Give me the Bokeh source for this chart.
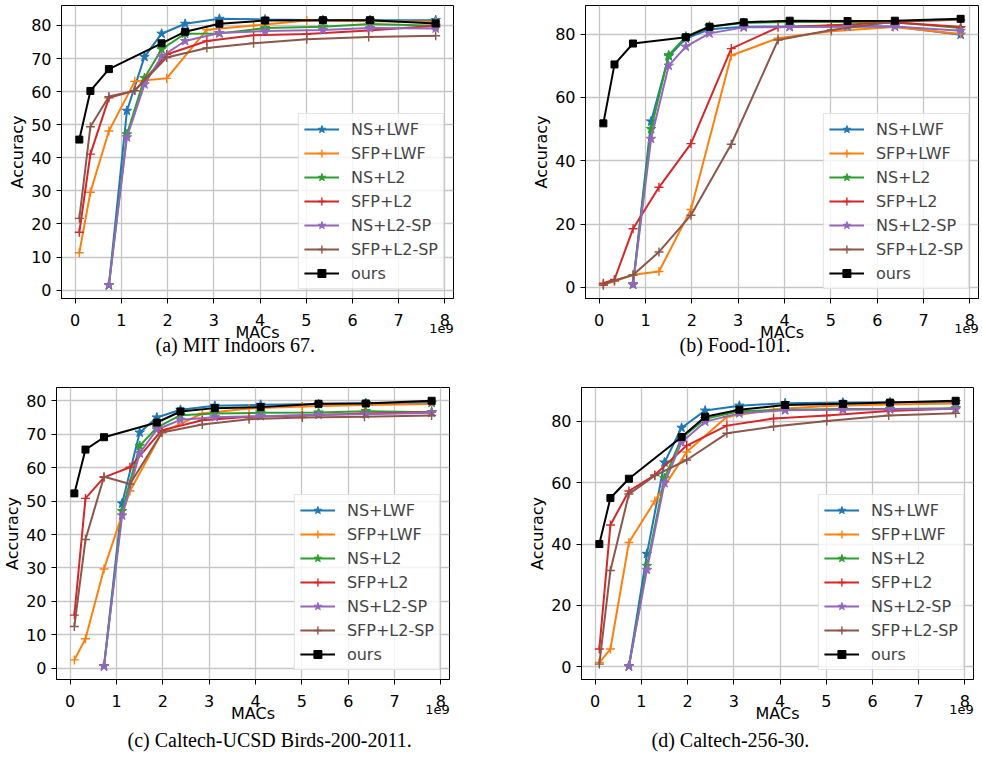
from bokeh.plotting import figure
from bokeh.layouts import row, column
from bokeh.models import Range1d, FixedTicker, LinearAxis, Title
from bokeh.embed import file_html
from bokeh.resources import INLINE

# ---------------- data ----------------
NS_MACS = [0.73, 1.12, 1.50, 1.87, 2.38, 3.12, 4.11, 5.36, 6.38, 7.80]
SFP_MACS = [0.09, 0.33, 0.73, 1.29, 1.98, 2.85, 3.86, 5.01, 6.35, 7.80]
OURS_MACS = [0.09, 0.33, 0.73, 1.87, 2.38, 3.12, 4.11, 5.36, 6.38, 7.80]

X_TICKS = [0, 1, 2, 3, 4, 5, 6, 7, 8]
Y_TICKS_10 = [0, 10, 20, 30, 40, 50, 60, 70, 80]
Y_TICKS_20 = [0, 20, 40, 60, 80]

NAMES = ["NS+LWF", "SFP+LWF", "NS+L2", "SFP+L2", "NS+L2-SP", "SFP+L2-SP", "ours"]
COLORS = ["#1f77b4", "#ff7f0e", "#2ca02c", "#d62728", "#9467bd", "#8c564b", "#000000"]

# (a) MIT Indoors 67
A_NS_LWF = [1.5, 54.2, 70.5, 77.5, 80.5, 82.0, 81.8, 81.6, 81.6, 81.6]
A_SFP_LWF = [11.3, 29.6, 48.1, 63.1, 64.0, 78.7, 80.0, 81.5, 81.3, 81.1]
A_NS_L2 = [1.5, 47.1, 64.1, 72.8, 77.5, 77.6, 79.2, 79.6, 80.4, 79.9]
A_SFP_L2 = [17.5, 41.1, 58.1, 60.3, 71.2, 75.3, 77.0, 77.4, 78.5, 79.9]
A_NS_L2SP = [1.5, 46.2, 62.2, 70.6, 75.3, 77.7, 78.3, 78.6, 79.2, 79.1]
A_SFP_L2SP = [21.7, 49.4, 58.5, 60.3, 70.3, 73.2, 74.6, 75.8, 76.5, 76.9]
A_OURS = [45.5, 60.2, 66.8, 74.6, 78.1, 80.5, 81.5, 81.6, 81.6, 80.6]

# (b) Food-101
B_NS_LWF = [0.9, 52.4, 73.0, 78.6, 81.5, 82.3, 82.4, 82.5, 82.4, 79.8]
B_SFP_LWF = [0.9, 1.9, 4.0, 5.0, 24.6, 73.2, 78.7, 80.9, 82.2, 80.0]
B_NS_L2 = [0.9, 50.0, 73.3, 79.2, 82.4, 83.5, 83.8, 83.8, 83.7, 81.9]
B_SFP_L2 = [1.3, 2.5, 18.5, 31.6, 45.4, 75.4, 82.1, 82.8, 83.6, 82.3]
B_NS_L2SP = [0.9, 46.9, 70.0, 76.0, 80.2, 82.1, 82.2, 82.3, 82.4, 81.0]
B_SFP_L2SP = [0.7, 2.2, 3.9, 11.2, 22.8, 45.2, 78.1, 81.3, 83.9, 84.5]
B_OURS = [51.8, 70.4, 77.0, 79.0, 82.3, 83.7, 84.2, 84.1, 84.2, 84.8]

# (c) Caltech-UCSD Birds-200-2011
C_NS_LWF = [0.6, 49.3, 70.5, 75.0, 77.3, 78.5, 78.8, 79.0, 79.3, 79.4]
C_SFP_LWF = [2.5, 8.8, 29.7, 53.0, 70.5, 76.2, 77.7, 78.3, 78.7, 79.0]
C_NS_L2 = [0.6, 47.0, 66.5, 72.0, 75.7, 76.2, 76.4, 76.5, 76.9, 76.6]
C_SFP_L2 = [15.9, 50.8, 57.1, 60.1, 71.2, 74.2, 75.2, 75.6, 76.2, 76.6]
C_NS_L2SP = [0.6, 45.7, 64.3, 71.4, 74.3, 75.1, 75.4, 75.8, 76.0, 76.4]
C_SFP_L2SP = [12.5, 38.5, 57.3, 55.1, 70.5, 72.9, 74.5, 75.0, 75.2, 75.6]
C_OURS = [52.3, 65.4, 69.1, 73.5, 76.8, 77.8, 78.1, 79.1, 79.2, 80.0]

# (d) Caltech-256-30
D_NS_LWF = [0.2, 36.8, 66.6, 77.9, 83.5, 85.1, 85.9, 86.1, 86.2, 86.3]
D_SFP_LWF = [1.4, 5.8, 40.5, 54.0, 70.0, 81.5, 83.9, 85.0, 85.5, 85.8]
D_NS_L2 = [0.2, 32.9, 61.5, 74.6, 80.8, 83.3, 83.8, 84.0, 84.0, 84.3]
D_SFP_L2 = [5.8, 46.2, 57.3, 62.5, 72.1, 78.6, 80.9, 81.9, 83.4, 84.2]
D_NS_L2SP = [0.2, 31.6, 59.9, 73.2, 79.9, 82.6, 83.6, 83.8, 83.9, 84.0]
D_SFP_L2SP = [0.9, 31.4, 56.3, 62.3, 67.4, 76.1, 78.3, 80.1, 81.9, 82.6]
D_OURS = [40.0, 55.0, 61.3, 74.9, 81.5, 83.8, 85.3, 85.7, 86.1, 86.7]

CAPTION_A = "(a) MIT Indoors 67."
CAPTION_B = "(b) Food-101."
CAPTION_C = "(c) Caltech-UCSD Birds-200-2011."
CAPTION_D = "(d) Caltech-256-30."
X_LABEL = "MACs"
Y_LABEL = "Accuracy"
X_OFFSET_TEXT = "1e9"

SANS = "DejaVu Sans"
SERIF = "Liberation Serif"


def padded(vals):
    lo, hi = min(vals), max(vals)
    pad = 0.05 * (hi - lo)
    return Range1d(start=lo - pad, end=hi + pad)


def make_panel(ys_list, y_ticks, caption, fw, fh, bl, br, bt, bb, cap_off, cap_standoff):
    xs_list = [NS_MACS, SFP_MACS, NS_MACS, SFP_MACS, NS_MACS, SFP_MACS, OURS_MACS]
    markers = ["star", "cross", "star", "cross", "star", "cross", "square"]
    all_x = [v for xs in xs_list for v in xs]
    all_y = [v for ys in ys_list for v in ys]
    p = figure(frame_width=fw, frame_height=fh,
               min_border_left=bl, min_border_right=br,
               min_border_top=bt, min_border_bottom=bb,
               x_range=padded(all_x), y_range=padded(all_y),
               output_backend="svg", toolbar_location=None, tools="",
               y_axis_label=Y_LABEL)
    p.background_fill_color = "white"
    p.border_fill_color = "white"
    p.outline_line_color = "black"
    p.outline_line_width = 1

    for name, xs, ys, mk, col in zip(NAMES, xs_list, ys_list, markers, COLORS):
        p.line(xs, ys, line_color=col, line_width=2, legend_label=name)
        if mk == "star":
            p.scatter(xs, ys, marker="star", size=10, fill_color=col,
                      line_color=col, line_width=1, legend_label=name)
        elif mk == "cross":
            p.scatter(xs, ys, marker="cross", size=9, line_color=col,
                      line_width=1.4, legend_label=name)
        else:
            p.scatter(xs, ys, marker="square", size=7, fill_color=col,
                      line_color=col, line_width=1, legend_label=name)

    p.xaxis.ticker = FixedTicker(ticks=X_TICKS)
    p.yaxis.ticker = FixedTicker(ticks=y_ticks)
    for ax in p.axis:
        ax.major_label_text_font = SANS
        ax.major_label_text_font_size = "16px"
        ax.major_label_text_color = "black"
        ax.axis_label_text_font = SANS
        ax.axis_label_text_font_size = "16px"
        ax.axis_label_text_font_style = "normal"
        ax.axis_label_text_color = "black"
        ax.axis_line_color = "black"
        ax.axis_line_width = 1
        ax.major_tick_line_color = "black"
        ax.major_tick_out = 5
        ax.major_tick_in = 0
        ax.minor_tick_line_color = None
    p.xaxis.major_label_standoff = 10
    p.yaxis.major_label_standoff = 5
    p.yaxis.axis_label_standoff = 1

    # second, line-less axis below: carries "1e9" (offset text) and the "MACs" label
    p.extra_x_ranges = {"px": Range1d(start=0, end=fw)}
    pos = fw - 12
    ax2 = LinearAxis(x_range_name="px", ticker=FixedTicker(ticks=[pos]),
                     major_label_overrides={pos: X_OFFSET_TEXT},
                     axis_label=X_LABEL)
    ax2.axis_line_color = None
    ax2.major_tick_line_color = None
    ax2.minor_tick_line_color = None
    ax2.major_tick_out = 0
    ax2.major_tick_in = 0
    ax2.major_label_standoff = -5
    ax2.major_label_text_font = SANS
    ax2.major_label_text_font_size = "13px"
    ax2.major_label_text_color = "black"
    ax2.axis_label_text_font = SANS
    ax2.axis_label_text_font_size = "16px"
    ax2.axis_label_text_font_style = "normal"
    ax2.axis_label_text_color = "black"
    ax2.axis_label_standoff = -13
    p.add_layout(ax2, "below")

    p.grid.grid_line_color = "#c6c6c6"
    p.grid.grid_line_width = 1.3

    lg = p.legend[0]
    lg.location = "bottom_right"
    lg.margin = 9
    lg.padding = 5
    lg.spacing = 4
    lg.glyph_width = 35
    lg.glyph_height = 20
    lg.label_height = 20
    lg.label_standoff = 12
    lg.label_text_font = SANS
    lg.label_text_font_size = "16px"
    lg.border_line_color = "#cccccc"
    lg.border_line_width = 1
    lg.background_fill_color = "white"
    lg.background_fill_alpha = 0.8

    p.add_layout(Title(text=caption, align="left", offset=cap_off,
                       vertical_align="top", standoff=cap_standoff,
                       text_font=SERIF, text_font_size="20px",
                       text_font_style="normal", text_color="black"), "below")
    return p


pa = make_panel([A_NS_LWF, A_SFP_LWF, A_NS_L2, A_SFP_L2, A_NS_L2SP, A_SFP_L2SP, A_OURS],
                Y_TICKS_10, CAPTION_A, 392, 293, 61, 37, 5, 77, 94, -21)
pb = make_panel([B_NS_LWF, B_SFP_LWF, B_NS_L2, B_SFP_L2, B_NS_L2SP, B_SFP_L2SP, B_OURS],
                Y_TICKS_20, CAPTION_B, 393, 293, 95, 3, 5, 77, 94, -21)
pc = make_panel([C_NS_LWF, C_SFP_LWF, C_NS_L2, C_SFP_L2, C_NS_L2SP, C_SFP_L2SP, C_OURS],
                Y_TICKS_10, CAPTION_C, 393, 292, 56, 41, 12, 84, 71, 7)
pd_ = make_panel([D_NS_LWF, D_SFP_LWF, D_NS_L2, D_SFP_L2, D_NS_L2SP, D_SFP_L2SP, D_OURS],
                 Y_TICKS_20, CAPTION_D, 392, 292, 91, 8, 12, 84, 70, 7)

layout = column(row(pa, pb), row(pc, pd_))

open("out.html", "w").write(file_html(layout, INLINE))
